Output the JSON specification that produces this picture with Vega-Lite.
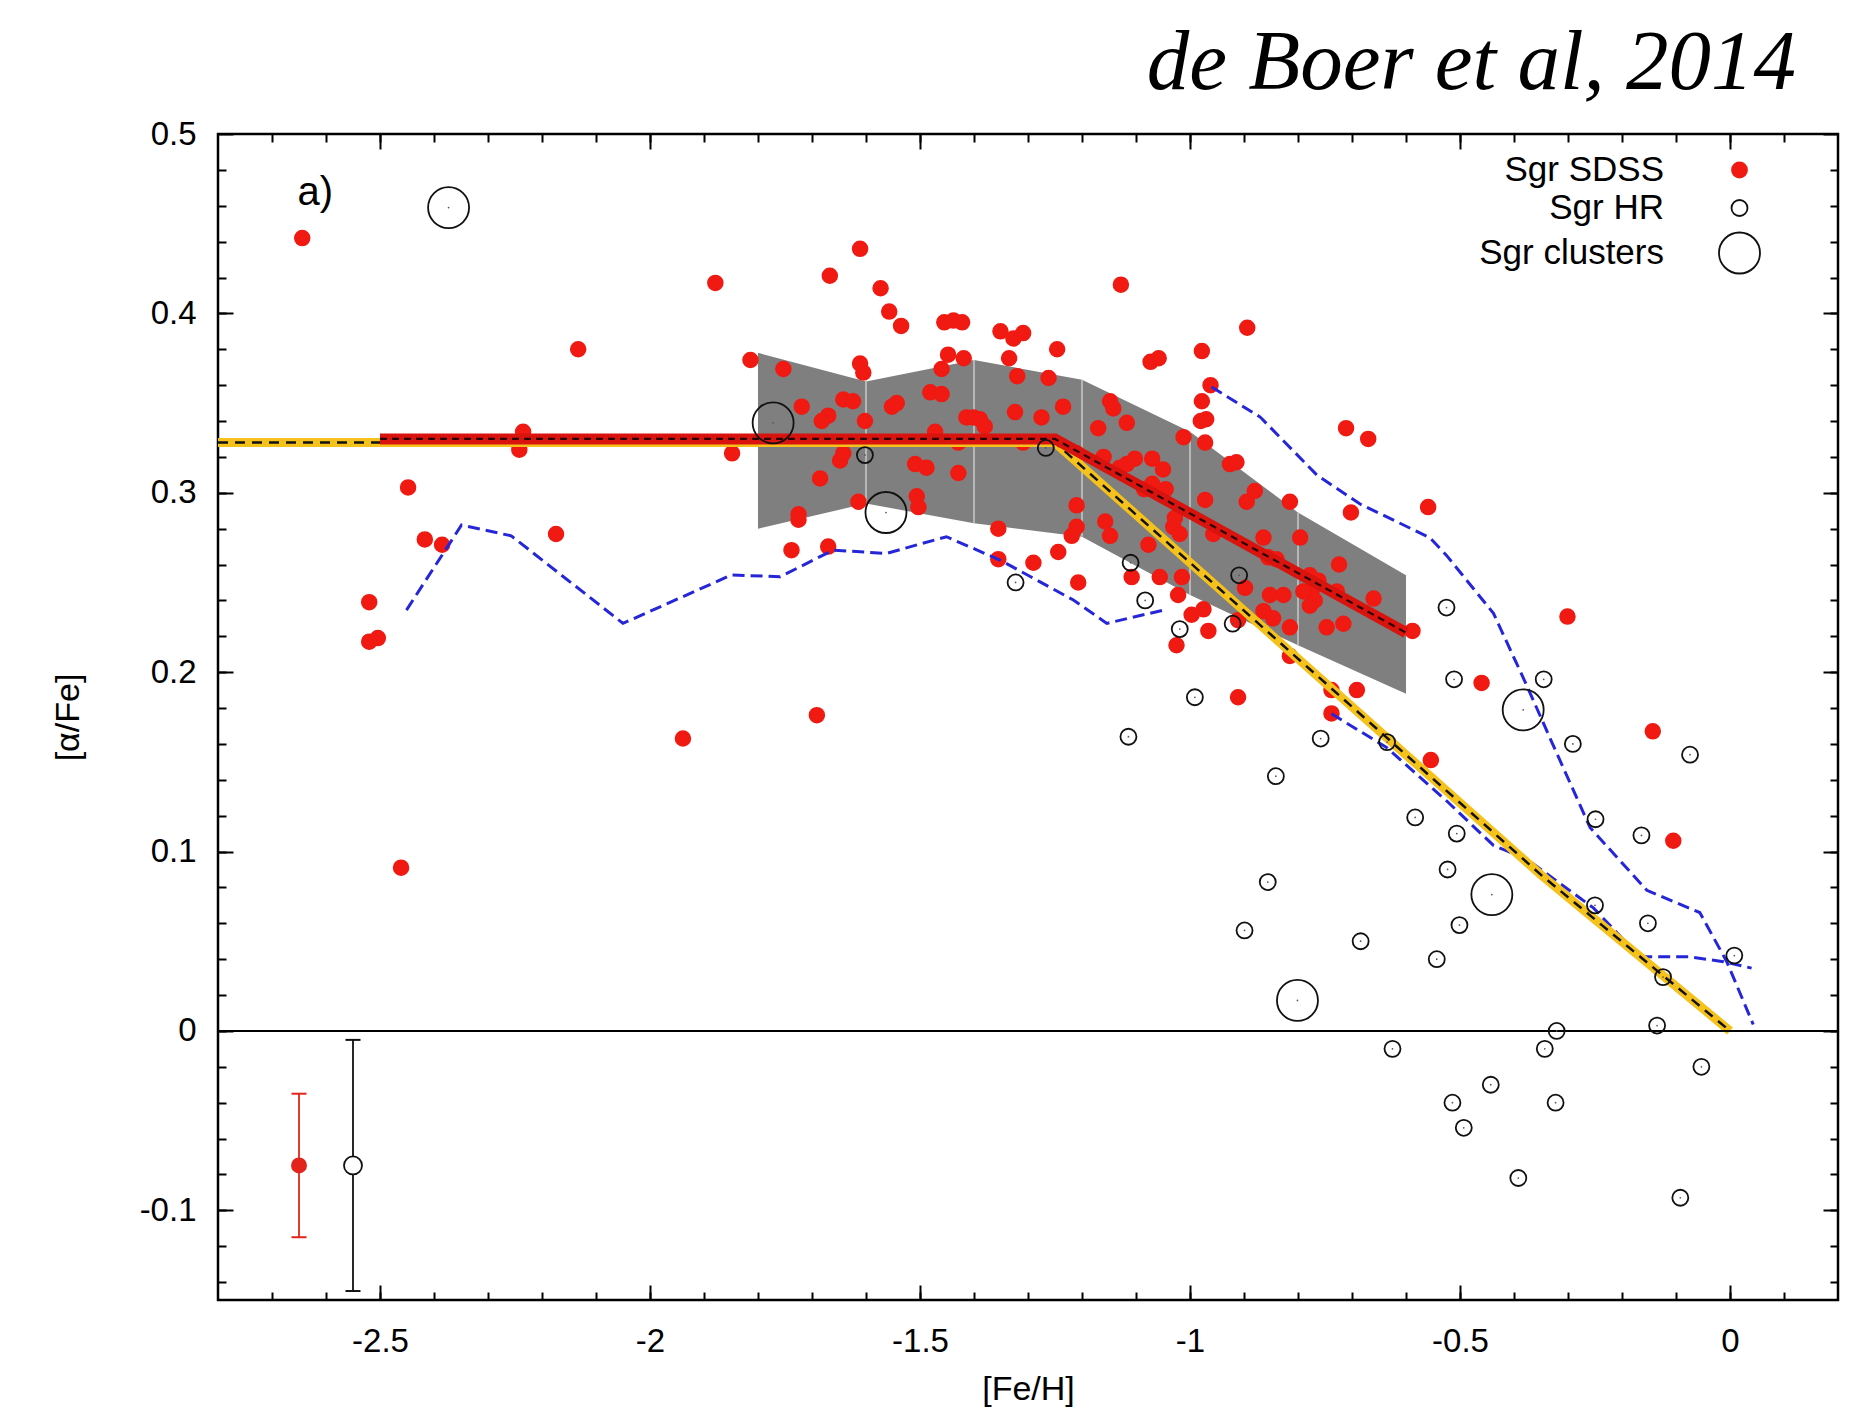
{
  "$schema": "https://vega.github.io/schema/vega-lite/v6.json",
  "width": 1620,
  "height": 1166,
  "autosize": {"type": "none"},
  "padding": {"left": 218, "top": 134, "right": 27, "bottom": 118},
  "background": "white",
  "title": {
    "text": "de Boer et al, 2014",
    "anchor": "end",
    "frame": "group",
    "orient": "top",
    "font": "Liberation Serif",
    "fontStyle": "italic",
    "fontWeight": "normal",
    "fontSize": 85,
    "color": "black",
    "baseline": "alphabetic",
    "offset": -56,
    "dx": -42
  },
  "config": {
    "font": "Liberation Sans",
    "view": {"stroke": "black", "strokeWidth": 2.5},
    "axis": {
      "grid": false,
      "domain": false,
      "tickColor": "black",
      "tickWidth": 2,
      "labelFont": "Liberation Sans",
      "labelFontSize": 33,
      "labelColor": "black",
      "titleFont": "Liberation Sans",
      "titleFontSize": 34,
      "titleFontWeight": "normal",
      "titleColor": "black",
      "labelFlush": false,
      "labelOverlap": false
    }
  },
  "datasets": {
    "band": [
      {"x": -1.8, "y": 0.378, "y2": 0.280},
      {"x": -1.6, "y": 0.362, "y2": 0.294},
      {"x": -1.4, "y": 0.374, "y2": 0.283},
      {"x": -1.2, "y": 0.363, "y2": 0.2755},
      {"x": -1.0, "y": 0.334, "y2": 0.243},
      {"x": -0.8, "y": 0.289, "y2": 0.215},
      {"x": -0.6, "y": 0.254, "y2": 0.188}
    ],
    "fitred": [
      {"x": -2.5, "y": 0.33},
      {"x": -1.25, "y": 0.33},
      {"x": -0.6, "y": 0.222}
    ],
    "fityel": [
      {"x": -2.8, "y": 0.328},
      {"x": -1.25, "y": 0.328},
      {"x": -0.35, "y": 0.087},
      {"x": 0.0, "y": 0.0}
    ],
    "blue": [
      {"seg": "lower1", "x": -2.451, "y": 0.2346},
      {"seg": "lower1", "x": -2.349, "y": 0.282},
      {"seg": "lower1", "x": -2.257, "y": 0.276},
      {"seg": "lower1", "x": -2.050, "y": 0.2272},
      {"seg": "lower1", "x": -1.849, "y": 0.2542},
      {"seg": "lower1", "x": -1.759, "y": 0.2532},
      {"seg": "lower1", "x": -1.661, "y": 0.268},
      {"seg": "lower1", "x": -1.562, "y": 0.2662},
      {"seg": "lower1", "x": -1.451, "y": 0.2755},
      {"seg": "lower1", "x": -1.352, "y": 0.2625},
      {"seg": "lower1", "x": -1.216, "y": 0.2402},
      {"seg": "lower1", "x": -1.154, "y": 0.2272},
      {"seg": "lower1", "x": -1.049, "y": 0.2346},
      {"seg": "lower2", "x": -0.738, "y": 0.1768},
      {"seg": "lower2", "x": -0.636, "y": 0.158},
      {"seg": "lower2", "x": -0.525, "y": 0.1283},
      {"seg": "lower2", "x": -0.438, "y": 0.1034},
      {"seg": "lower2", "x": -0.377, "y": 0.0959},
      {"seg": "lower2", "x": -0.253, "y": 0.0686},
      {"seg": "lower2", "x": -0.167, "y": 0.0413},
      {"seg": "lower2", "x": -0.074, "y": 0.0413},
      {"seg": "lower2", "x": -0.012, "y": 0.0386},
      {"seg": "lower2", "x": 0.040, "y": 0.035},
      {"seg": "upper", "x": -0.96, "y": 0.359},
      {"seg": "upper", "x": -0.87, "y": 0.3422},
      {"seg": "upper", "x": -0.765, "y": 0.3099},
      {"seg": "upper", "x": -0.685, "y": 0.2937},
      {"seg": "upper", "x": -0.556, "y": 0.275},
      {"seg": "upper", "x": -0.525, "y": 0.2651},
      {"seg": "upper", "x": -0.438, "y": 0.2328},
      {"seg": "upper", "x": -0.377, "y": 0.193},
      {"seg": "upper", "x": -0.333, "y": 0.163},
      {"seg": "upper", "x": -0.259, "y": 0.1133},
      {"seg": "upper", "x": -0.154, "y": 0.0784},
      {"seg": "upper", "x": -0.056, "y": 0.066},
      {"seg": "upper", "x": -0.006, "y": 0.0386},
      {"seg": "upper", "x": 0.043, "y": 0.0036}
    ],
    "sdss": [
      {"set": "Sgr SDSS", "x": -2.644, "y": 0.442},
      {"set": "Sgr SDSS", "x": -2.520, "y": 0.239},
      {"set": "Sgr SDSS", "x": -2.520, "y": 0.217},
      {"set": "Sgr SDSS", "x": -2.504, "y": 0.219},
      {"set": "Sgr SDSS", "x": -2.448, "y": 0.303},
      {"set": "Sgr SDSS", "x": -2.417, "y": 0.274},
      {"set": "Sgr SDSS", "x": -2.385, "y": 0.271},
      {"set": "Sgr SDSS", "x": -2.461, "y": 0.091},
      {"set": "Sgr SDSS", "x": -2.235, "y": 0.334},
      {"set": "Sgr SDSS", "x": -2.242, "y": 0.324},
      {"set": "Sgr SDSS", "x": -2.174, "y": 0.277},
      {"set": "Sgr SDSS", "x": -2.133, "y": 0.380},
      {"set": "Sgr SDSS", "x": -1.939, "y": 0.163},
      {"set": "Sgr SDSS", "x": -1.879, "y": 0.417},
      {"set": "Sgr SDSS", "x": -1.848, "y": 0.322},
      {"set": "Sgr SDSS", "x": -1.814, "y": 0.374},
      {"set": "Sgr SDSS", "x": -1.691, "y": 0.176},
      {"set": "Sgr SDSS", "x": -1.667, "y": 0.421},
      {"set": "Sgr SDSS", "x": -1.611, "y": 0.436},
      {"set": "Sgr SDSS", "x": -1.573, "y": 0.414},
      {"set": "Sgr SDSS", "x": -1.557, "y": 0.401},
      {"set": "Sgr SDSS", "x": -1.535, "y": 0.393},
      {"set": "Sgr SDSS", "x": -1.455, "y": 0.395},
      {"set": "Sgr SDSS", "x": -1.438, "y": 0.396},
      {"set": "Sgr SDSS", "x": -1.422, "y": 0.395},
      {"set": "Sgr SDSS", "x": -1.351, "y": 0.390},
      {"set": "Sgr SDSS", "x": -1.327, "y": 0.386},
      {"set": "Sgr SDSS", "x": -1.309, "y": 0.389},
      {"set": "Sgr SDSS", "x": -1.128, "y": 0.416},
      {"set": "Sgr SDSS", "x": -0.894, "y": 0.392},
      {"set": "Sgr SDSS", "x": -0.978, "y": 0.379},
      {"set": "Sgr SDSS", "x": -0.962, "y": 0.360},
      {"set": "Sgr SDSS", "x": -1.246, "y": 0.380},
      {"set": "Sgr SDSS", "x": -1.335, "y": 0.375},
      {"set": "Sgr SDSS", "x": -1.320, "y": 0.365},
      {"set": "Sgr SDSS", "x": -1.262, "y": 0.364},
      {"set": "Sgr SDSS", "x": -1.073, "y": 0.373},
      {"set": "Sgr SDSS", "x": -1.058, "y": 0.375},
      {"set": "Sgr SDSS", "x": -1.753, "y": 0.369},
      {"set": "Sgr SDSS", "x": -1.611, "y": 0.372},
      {"set": "Sgr SDSS", "x": -1.605, "y": 0.367},
      {"set": "Sgr SDSS", "x": -1.448, "y": 0.377},
      {"set": "Sgr SDSS", "x": -1.460, "y": 0.369},
      {"set": "Sgr SDSS", "x": -1.419, "y": 0.375},
      {"set": "Sgr SDSS", "x": -1.481, "y": 0.356},
      {"set": "Sgr SDSS", "x": -1.460, "y": 0.355},
      {"set": "Sgr SDSS", "x": -1.552, "y": 0.348},
      {"set": "Sgr SDSS", "x": -1.543, "y": 0.350},
      {"set": "Sgr SDSS", "x": -1.642, "y": 0.352},
      {"set": "Sgr SDSS", "x": -1.624, "y": 0.351},
      {"set": "Sgr SDSS", "x": -1.719, "y": 0.348},
      {"set": "Sgr SDSS", "x": -1.670, "y": 0.343},
      {"set": "Sgr SDSS", "x": -1.682, "y": 0.340},
      {"set": "Sgr SDSS", "x": -1.602, "y": 0.340},
      {"set": "Sgr SDSS", "x": -1.414, "y": 0.342},
      {"set": "Sgr SDSS", "x": -1.401, "y": 0.342},
      {"set": "Sgr SDSS", "x": -1.389, "y": 0.341},
      {"set": "Sgr SDSS", "x": -1.380, "y": 0.337},
      {"set": "Sgr SDSS", "x": -1.324, "y": 0.345},
      {"set": "Sgr SDSS", "x": -1.275, "y": 0.342},
      {"set": "Sgr SDSS", "x": -1.235, "y": 0.348},
      {"set": "Sgr SDSS", "x": -1.148, "y": 0.351},
      {"set": "Sgr SDSS", "x": -1.142, "y": 0.347},
      {"set": "Sgr SDSS", "x": -1.170, "y": 0.336},
      {"set": "Sgr SDSS", "x": -1.117, "y": 0.339},
      {"set": "Sgr SDSS", "x": -0.978, "y": 0.351},
      {"set": "Sgr SDSS", "x": -0.980, "y": 0.340},
      {"set": "Sgr SDSS", "x": -0.970, "y": 0.341},
      {"set": "Sgr SDSS", "x": -0.972, "y": 0.328},
      {"set": "Sgr SDSS", "x": -1.012, "y": 0.331},
      {"set": "Sgr SDSS", "x": -1.472, "y": 0.334},
      {"set": "Sgr SDSS", "x": -1.429, "y": 0.328},
      {"set": "Sgr SDSS", "x": -1.309, "y": 0.328},
      {"set": "Sgr SDSS", "x": -1.648, "y": 0.318},
      {"set": "Sgr SDSS", "x": -1.642, "y": 0.322},
      {"set": "Sgr SDSS", "x": -1.685, "y": 0.308},
      {"set": "Sgr SDSS", "x": -1.509, "y": 0.316},
      {"set": "Sgr SDSS", "x": -1.488, "y": 0.314},
      {"set": "Sgr SDSS", "x": -1.429, "y": 0.311},
      {"set": "Sgr SDSS", "x": -1.210, "y": 0.322},
      {"set": "Sgr SDSS", "x": -1.160, "y": 0.320},
      {"set": "Sgr SDSS", "x": -1.130, "y": 0.314},
      {"set": "Sgr SDSS", "x": -1.117, "y": 0.316},
      {"set": "Sgr SDSS", "x": -1.102, "y": 0.319},
      {"set": "Sgr SDSS", "x": -1.070, "y": 0.319},
      {"set": "Sgr SDSS", "x": -1.050, "y": 0.313},
      {"set": "Sgr SDSS", "x": -1.070, "y": 0.305},
      {"set": "Sgr SDSS", "x": -1.045, "y": 0.302},
      {"set": "Sgr SDSS", "x": -1.085, "y": 0.302},
      {"set": "Sgr SDSS", "x": -0.926, "y": 0.316},
      {"set": "Sgr SDSS", "x": -0.914, "y": 0.317},
      {"set": "Sgr SDSS", "x": -0.972, "y": 0.296},
      {"set": "Sgr SDSS", "x": -0.895, "y": 0.295},
      {"set": "Sgr SDSS", "x": -0.880, "y": 0.301},
      {"set": "Sgr SDSS", "x": -1.210, "y": 0.293},
      {"set": "Sgr SDSS", "x": -1.210, "y": 0.281},
      {"set": "Sgr SDSS", "x": -1.219, "y": 0.276},
      {"set": "Sgr SDSS", "x": -1.157, "y": 0.284},
      {"set": "Sgr SDSS", "x": -1.148, "y": 0.276},
      {"set": "Sgr SDSS", "x": -1.077, "y": 0.271},
      {"set": "Sgr SDSS", "x": -1.031, "y": 0.281},
      {"set": "Sgr SDSS", "x": -1.019, "y": 0.277},
      {"set": "Sgr SDSS", "x": -1.028, "y": 0.286},
      {"set": "Sgr SDSS", "x": -0.957, "y": 0.277},
      {"set": "Sgr SDSS", "x": -0.975, "y": 0.235},
      {"set": "Sgr SDSS", "x": -0.997, "y": 0.232},
      {"set": "Sgr SDSS", "x": -1.056, "y": 0.253},
      {"set": "Sgr SDSS", "x": -1.015, "y": 0.253},
      {"set": "Sgr SDSS", "x": -1.022, "y": 0.243},
      {"set": "Sgr SDSS", "x": -1.108, "y": 0.253},
      {"set": "Sgr SDSS", "x": -1.025, "y": 0.215},
      {"set": "Sgr SDSS", "x": -0.966, "y": 0.223},
      {"set": "Sgr SDSS", "x": -0.911, "y": 0.229},
      {"set": "Sgr SDSS", "x": -0.911, "y": 0.186},
      {"set": "Sgr SDSS", "x": -1.207, "y": 0.250},
      {"set": "Sgr SDSS", "x": -1.244, "y": 0.267},
      {"set": "Sgr SDSS", "x": -1.290, "y": 0.261},
      {"set": "Sgr SDSS", "x": -1.355, "y": 0.263},
      {"set": "Sgr SDSS", "x": -1.355, "y": 0.280},
      {"set": "Sgr SDSS", "x": -1.506, "y": 0.298},
      {"set": "Sgr SDSS", "x": -1.503, "y": 0.292},
      {"set": "Sgr SDSS", "x": -1.614, "y": 0.295},
      {"set": "Sgr SDSS", "x": -1.725, "y": 0.288},
      {"set": "Sgr SDSS", "x": -1.725, "y": 0.285},
      {"set": "Sgr SDSS", "x": -1.738, "y": 0.268},
      {"set": "Sgr SDSS", "x": -1.670, "y": 0.270},
      {"set": "Sgr SDSS", "x": -0.898, "y": 0.247},
      {"set": "Sgr SDSS", "x": -0.711, "y": 0.336},
      {"set": "Sgr SDSS", "x": -0.670, "y": 0.330},
      {"set": "Sgr SDSS", "x": -0.559, "y": 0.292},
      {"set": "Sgr SDSS", "x": -0.702, "y": 0.289},
      {"set": "Sgr SDSS", "x": -0.815, "y": 0.295},
      {"set": "Sgr SDSS", "x": -0.864, "y": 0.275},
      {"set": "Sgr SDSS", "x": -0.796, "y": 0.275},
      {"set": "Sgr SDSS", "x": -0.724, "y": 0.260},
      {"set": "Sgr SDSS", "x": -0.855, "y": 0.264},
      {"set": "Sgr SDSS", "x": -0.840, "y": 0.263},
      {"set": "Sgr SDSS", "x": -0.778, "y": 0.254},
      {"set": "Sgr SDSS", "x": -0.762, "y": 0.251},
      {"set": "Sgr SDSS", "x": -0.772, "y": 0.247},
      {"set": "Sgr SDSS", "x": -0.790, "y": 0.245},
      {"set": "Sgr SDSS", "x": -0.728, "y": 0.245},
      {"set": "Sgr SDSS", "x": -0.660, "y": 0.241},
      {"set": "Sgr SDSS", "x": -0.852, "y": 0.243},
      {"set": "Sgr SDSS", "x": -0.827, "y": 0.243},
      {"set": "Sgr SDSS", "x": -0.778, "y": 0.237},
      {"set": "Sgr SDSS", "x": -0.769, "y": 0.240},
      {"set": "Sgr SDSS", "x": -0.864, "y": 0.234},
      {"set": "Sgr SDSS", "x": -0.846, "y": 0.230},
      {"set": "Sgr SDSS", "x": -0.815, "y": 0.225},
      {"set": "Sgr SDSS", "x": -0.747, "y": 0.225},
      {"set": "Sgr SDSS", "x": -0.716, "y": 0.227},
      {"set": "Sgr SDSS", "x": -0.588, "y": 0.223},
      {"set": "Sgr SDSS", "x": -0.815, "y": 0.209},
      {"set": "Sgr SDSS", "x": -0.691, "y": 0.190},
      {"set": "Sgr SDSS", "x": -0.738, "y": 0.190},
      {"set": "Sgr SDSS", "x": -0.738, "y": 0.177},
      {"set": "Sgr SDSS", "x": -0.460, "y": 0.194},
      {"set": "Sgr SDSS", "x": -0.301, "y": 0.231},
      {"set": "Sgr SDSS", "x": -0.143, "y": 0.167},
      {"set": "Sgr SDSS", "x": -0.105, "y": 0.106},
      {"set": "Sgr SDSS", "x": -0.554, "y": 0.151}
    ],
    "hr": [
      {"set": "Sgr HR", "x": -1.602, "y": 0.321},
      {"set": "Sgr HR", "x": -1.267, "y": 0.325},
      {"set": "Sgr HR", "x": -1.323, "y": 0.250},
      {"set": "Sgr HR", "x": -1.110, "y": 0.261},
      {"set": "Sgr HR", "x": -1.083, "y": 0.240},
      {"set": "Sgr HR", "x": -1.019, "y": 0.224},
      {"set": "Sgr HR", "x": -0.909, "y": 0.254},
      {"set": "Sgr HR", "x": -0.921, "y": 0.227},
      {"set": "Sgr HR", "x": -0.991, "y": 0.186},
      {"set": "Sgr HR", "x": -1.114, "y": 0.164},
      {"set": "Sgr HR", "x": -0.758, "y": 0.163},
      {"set": "Sgr HR", "x": -0.841, "y": 0.142},
      {"set": "Sgr HR", "x": -0.856, "y": 0.083},
      {"set": "Sgr HR", "x": -0.899, "y": 0.056},
      {"set": "Sgr HR", "x": -0.684, "y": 0.050},
      {"set": "Sgr HR", "x": -0.635, "y": 0.161},
      {"set": "Sgr HR", "x": -0.625, "y": -0.010},
      {"set": "Sgr HR", "x": -0.583, "y": 0.119},
      {"set": "Sgr HR", "x": -0.525, "y": 0.236},
      {"set": "Sgr HR", "x": -0.511, "y": 0.196},
      {"set": "Sgr HR", "x": -0.506, "y": 0.110},
      {"set": "Sgr HR", "x": -0.523, "y": 0.090},
      {"set": "Sgr HR", "x": -0.501, "y": 0.059},
      {"set": "Sgr HR", "x": -0.543, "y": 0.040},
      {"set": "Sgr HR", "x": -0.345, "y": 0.196},
      {"set": "Sgr HR", "x": -0.291, "y": 0.160},
      {"set": "Sgr HR", "x": -0.249, "y": 0.118},
      {"set": "Sgr HR", "x": -0.164, "y": 0.109},
      {"set": "Sgr HR", "x": -0.074, "y": 0.154},
      {"set": "Sgr HR", "x": -0.250, "y": 0.070},
      {"set": "Sgr HR", "x": -0.152, "y": 0.060},
      {"set": "Sgr HR", "x": -0.124, "y": 0.030},
      {"set": "Sgr HR", "x": 0.008, "y": 0.042},
      {"set": "Sgr HR", "x": -0.321, "y": 0.000},
      {"set": "Sgr HR", "x": -0.343, "y": -0.010},
      {"set": "Sgr HR", "x": -0.135, "y": 0.003},
      {"set": "Sgr HR", "x": -0.514, "y": -0.040},
      {"set": "Sgr HR", "x": -0.493, "y": -0.054},
      {"set": "Sgr HR", "x": -0.443, "y": -0.030},
      {"set": "Sgr HR", "x": -0.323, "y": -0.040},
      {"set": "Sgr HR", "x": -0.053, "y": -0.020},
      {"set": "Sgr HR", "x": -0.392, "y": -0.082},
      {"set": "Sgr HR", "x": -0.092, "y": -0.093},
      {"set": "Sgr clusters", "x": -2.373, "y": 0.459},
      {"set": "Sgr clusters", "x": -1.772, "y": 0.339},
      {"set": "Sgr clusters", "x": -1.563, "y": 0.289},
      {"set": "Sgr clusters", "x": -0.383, "y": 0.179},
      {"set": "Sgr clusters", "x": -0.441, "y": 0.076},
      {"set": "Sgr clusters", "x": -0.801, "y": 0.017}
    ],
    "err": [
      {"set": "SDSS", "x": -2.65, "y": -0.075, "lo": -0.115, "hi": -0.035},
      {"set": "HR", "x": -2.55, "y": -0.075, "lo": -0.145, "hi": -0.005}
    ]
  },
  "layer": [
    {
      "data": {"name": "band"},
      "mark": {"type": "area", "color": "#7f7f7f", "opacity": 1},
      "encoding": {
        "x": {"field": "x", "type": "quantitative", "scale": {"domain": [-2.8, 0.2], "nice": false, "zero": false},
          "axis": {"orient": "bottom", "values": [-2.5, -2, -1.5, -1, -0.5, 0], "tickSize": -15, "labelPadding": 40, "format": "~g", "labelExpr": "replace(datum.label, '\u2212', '-')", "title": "[Fe/H]", "titlePadding": 14}},
        "y": {"field": "y", "type": "quantitative", "scale": {"domain": [-0.15, 0.5], "nice": false, "zero": false},
          "axis": {"orient": "left", "values": [-0.1, 0, 0.1, 0.2, 0.3, 0.4, 0.5], "tickSize": -15, "labelPadding": 37, "format": "~g", "labelExpr": "replace(datum.label, '\u2212', '-')", "title": "[\u03b1/Fe]", "titlePadding": 54}},
        "y2": {"field": "y2"}
      }
    },
    {
      "data": {"name": "band"},
      "transform": [{"filter": "datum.x > -1.75 && datum.x < -0.65"}],
      "mark": {"type": "rule", "color": "#c8c8c8", "strokeWidth": 1.5},
      "encoding": {
        "x": {"field": "x", "type": "quantitative", "scale": {"domain": [-2.8, 0.2], "nice": false, "zero": false}, "axis": null},
        "y": {"field": "y", "type": "quantitative", "scale": {"domain": [-0.15, 0.5], "nice": false, "zero": false}, "axis": null},
        "y2": {"field": "y2"}
      }
    },
    {
      "data": {"name": "sdss"},
      "mark": {"type": "point", "shape": "circle", "opacity": 1, "strokeWidth": 1.5},
      "encoding": {
        "x": {"field": "x", "type": "quantitative", "scale": {"domain": [-2.8, 0.2], "nice": false, "zero": false}, "axis": null},
        "y": {"field": "y", "type": "quantitative", "scale": {"domain": [-0.15, 0.5], "nice": false, "zero": false}, "axis": null},
        "fill": {"field": "set", "type": "nominal", "scale": {"domain": ["Sgr SDSS", "Sgr HR", "Sgr clusters"], "range": ["#f01a12", "transparent", "transparent"]},
          "legend": {"orient": "none", "legendX": 1500, "legendY": 18.5, "title": null, "labelAlign": "right", "labelOffset": -97, "labelFontSize": 35, "labelFont": "Liberation Sans", "labelColor": "black", "labelLimit": 0, "rowPadding": 2, "padding": 0, "symbolType": "circle", "symbolStrokeWidth": 1.8}},
        "stroke": {"field": "set", "type": "nominal", "scale": {"domain": ["Sgr SDSS", "Sgr HR", "Sgr clusters"], "range": ["#f01a12", "#111111", "#111111"]},
          "legend": {"orient": "none", "legendX": 1500, "legendY": 18.5, "title": null, "labelAlign": "right", "labelOffset": -97, "labelFontSize": 35, "labelFont": "Liberation Sans", "labelColor": "black", "labelLimit": 0, "rowPadding": 2, "padding": 0, "symbolType": "circle", "symbolStrokeWidth": 1.8}},
        "size": {"field": "set", "type": "nominal", "scale": {"type": "ordinal", "domain": ["Sgr SDSS", "Sgr HR", "Sgr clusters"], "range": [225, 256, 1681]},
          "legend": {"orient": "none", "legendX": 1500, "legendY": 18.5, "title": null, "labelAlign": "right", "labelOffset": -97, "labelFontSize": 35, "labelFont": "Liberation Sans", "labelColor": "black", "labelLimit": 0, "rowPadding": 2, "padding": 0, "symbolType": "circle", "symbolStrokeWidth": 1.8}}
      }
    },
    {
      "data": {"name": "blue"},
      "mark": {"type": "line", "color": "#2626d9", "strokeWidth": 3, "strokeDash": [12, 6]},
      "encoding": {
        "x": {"field": "x", "type": "quantitative", "scale": {"domain": [-2.8, 0.2], "nice": false, "zero": false},
          "axis": {"orient": "bottom", "values": [-2.7, -2.6, -2.5, -2.4, -2.3, -2.2, -2.1, -2, -1.9, -1.8, -1.7, -1.6, -1.5, -1.4, -1.3, -1.2, -1.1, -1, -0.9, -0.8, -0.7, -0.6, -0.5, -0.4, -0.3, -0.2, -0.1, 0, 0.1], "tickSize": -8, "labels": false, "title": null}},
        "y": {"field": "y", "type": "quantitative", "scale": {"domain": [-0.15, 0.5], "nice": false, "zero": false},
          "axis": {"orient": "left", "values": [-0.14, -0.12, -0.1, -0.08, -0.06, -0.04, -0.02, 0, 0.02, 0.04, 0.06, 0.08, 0.1, 0.12, 0.14, 0.16, 0.18, 0.2, 0.22, 0.24, 0.26, 0.28, 0.3, 0.32, 0.34, 0.36, 0.38, 0.4, 0.42, 0.44, 0.46, 0.48], "tickSize": -8, "labels": false, "title": null}},
        "detail": {"field": "seg", "type": "nominal"}
      }
    },
    {
      "data": {"name": "fityel"},
      "mark": {"type": "line", "color": "#f5c21b", "strokeWidth": 9},
      "encoding": {
        "x": {"field": "x", "type": "quantitative", "scale": {"domain": [-2.8, 0.2], "nice": false, "zero": false},
          "axis": {"orient": "top", "values": [-2.5, -2, -1.5, -1, -0.5, 0], "tickSize": -15, "labels": false, "title": null}},
        "y": {"field": "y", "type": "quantitative", "scale": {"domain": [-0.15, 0.5], "nice": false, "zero": false},
          "axis": {"orient": "right", "values": [-0.1, 0, 0.1, 0.2, 0.3, 0.4, 0.5], "tickSize": -15, "labels": false, "title": null}}
      }
    },
    {
      "data": {"name": "fityel"},
      "mark": {"type": "line", "color": "#111111", "strokeWidth": 2.5, "strokeDash": [10, 7]},
      "encoding": {
        "x": {"field": "x", "type": "quantitative", "scale": {"domain": [-2.8, 0.2], "nice": false, "zero": false}, "axis": null},
        "y": {"field": "y", "type": "quantitative", "scale": {"domain": [-0.15, 0.5], "nice": false, "zero": false}, "axis": null}
      }
    },
    {
      "data": {"name": "fitred"},
      "mark": {"type": "line", "color": "#d9140e", "strokeWidth": 11},
      "encoding": {
        "x": {"field": "x", "type": "quantitative", "scale": {"domain": [-2.8, 0.2], "nice": false, "zero": false},
          "axis": {"orient": "top", "values": [-2.7, -2.6, -2.5, -2.4, -2.3, -2.2, -2.1, -2, -1.9, -1.8, -1.7, -1.6, -1.5, -1.4, -1.3, -1.2, -1.1, -1, -0.9, -0.8, -0.7, -0.6, -0.5, -0.4, -0.3, -0.2, -0.1, 0, 0.1], "tickSize": -8, "labels": false, "title": null}},
        "y": {"field": "y", "type": "quantitative", "scale": {"domain": [-0.15, 0.5], "nice": false, "zero": false},
          "axis": {"orient": "right", "values": [-0.14, -0.12, -0.1, -0.08, -0.06, -0.04, -0.02, 0, 0.02, 0.04, 0.06, 0.08, 0.1, 0.12, 0.14, 0.16, 0.18, 0.2, 0.22, 0.24, 0.26, 0.28, 0.3, 0.32, 0.34, 0.36, 0.38, 0.4, 0.42, 0.44, 0.46, 0.48], "tickSize": -8, "labels": false, "title": null}}
      }
    },
    {
      "data": {"name": "fitred"},
      "mark": {"type": "line", "color": "#2a0000", "strokeWidth": 2.2, "strokeDash": [7, 5]},
      "encoding": {
        "x": {"field": "x", "type": "quantitative", "scale": {"domain": [-2.8, 0.2], "nice": false, "zero": false}, "axis": null},
        "y": {"field": "y", "type": "quantitative", "scale": {"domain": [-0.15, 0.5], "nice": false, "zero": false}, "axis": null}
      }
    },
    {
      "data": {"values": [{}]},
      "mark": {"type": "rule", "color": "black", "strokeWidth": 2},
      "encoding": {
        "y": {"datum": 0, "type": "quantitative", "scale": {"domain": [-0.15, 0.5], "nice": false, "zero": false}, "axis": null}
      }
    },
    {
      "data": {"name": "hr"},
      "mark": {"type": "point", "shape": "circle", "opacity": 1, "strokeWidth": 1.8},
      "encoding": {
        "x": {"field": "x", "type": "quantitative", "scale": {"domain": [-2.8, 0.2], "nice": false, "zero": false}, "axis": null},
        "y": {"field": "y", "type": "quantitative", "scale": {"domain": [-0.15, 0.5], "nice": false, "zero": false}, "axis": null},
        "fill": {"field": "set", "type": "nominal", "scale": {"domain": ["Sgr SDSS", "Sgr HR", "Sgr clusters"], "range": ["#f01a12", "transparent", "transparent"]},
          "legend": {"orient": "none", "legendX": 1500, "legendY": 18.5, "title": null, "labelAlign": "right", "labelOffset": -97, "labelFontSize": 35, "labelFont": "Liberation Sans", "labelColor": "black", "labelLimit": 0, "rowPadding": 2, "padding": 0, "symbolType": "circle", "symbolStrokeWidth": 1.8}},
        "stroke": {"field": "set", "type": "nominal", "scale": {"domain": ["Sgr SDSS", "Sgr HR", "Sgr clusters"], "range": ["#f01a12", "#111111", "#111111"]},
          "legend": {"orient": "none", "legendX": 1500, "legendY": 18.5, "title": null, "labelAlign": "right", "labelOffset": -97, "labelFontSize": 35, "labelFont": "Liberation Sans", "labelColor": "black", "labelLimit": 0, "rowPadding": 2, "padding": 0, "symbolType": "circle", "symbolStrokeWidth": 1.8}},
        "size": {"field": "set", "type": "nominal", "scale": {"type": "ordinal", "domain": ["Sgr SDSS", "Sgr HR", "Sgr clusters"], "range": [225, 256, 1681]},
          "legend": {"orient": "none", "legendX": 1500, "legendY": 18.5, "title": null, "labelAlign": "right", "labelOffset": -97, "labelFontSize": 35, "labelFont": "Liberation Sans", "labelColor": "black", "labelLimit": 0, "rowPadding": 2, "padding": 0, "symbolType": "circle", "symbolStrokeWidth": 1.8}}
      }
    },
    {
      "data": {"name": "hr"},
      "mark": {"type": "point", "shape": "circle", "filled": true, "opacity": 1, "size": 3, "color": "#555555"},
      "encoding": {
        "x": {"field": "x", "type": "quantitative", "scale": {"domain": [-2.8, 0.2], "nice": false, "zero": false}, "axis": null},
        "y": {"field": "y", "type": "quantitative", "scale": {"domain": [-0.15, 0.5], "nice": false, "zero": false}, "axis": null}
      }
    },
    {
      "data": {"name": "err"},
      "mark": {"type": "rule", "strokeWidth": 1.8},
      "encoding": {
        "x": {"field": "x", "type": "quantitative", "scale": {"domain": [-2.8, 0.2], "nice": false, "zero": false}, "axis": null},
        "y": {"field": "lo", "type": "quantitative", "scale": {"domain": [-0.15, 0.5], "nice": false, "zero": false}, "axis": null},
        "y2": {"field": "hi"},
        "color": {"field": "set", "type": "nominal", "scale": {"domain": ["SDSS", "HR"], "range": ["#e3241c", "#111111"]}, "legend": null}
      }
    },
    {
      "data": {"name": "err"},
      "mark": {"type": "tick", "orient": "horizontal", "size": 15, "thickness": 2, "opacity": 1},
      "encoding": {
        "x": {"field": "x", "type": "quantitative", "scale": {"domain": [-2.8, 0.2], "nice": false, "zero": false}, "axis": null},
        "y": {"field": "lo", "type": "quantitative", "scale": {"domain": [-0.15, 0.5], "nice": false, "zero": false}, "axis": null},
        "color": {"field": "set", "type": "nominal", "scale": {"domain": ["SDSS", "HR"], "range": ["#e3241c", "#111111"]}, "legend": null}
      }
    },
    {
      "data": {"name": "err"},
      "mark": {"type": "tick", "orient": "horizontal", "size": 15, "thickness": 2, "opacity": 1},
      "encoding": {
        "x": {"field": "x", "type": "quantitative", "scale": {"domain": [-2.8, 0.2], "nice": false, "zero": false}, "axis": null},
        "y": {"field": "hi", "type": "quantitative", "scale": {"domain": [-0.15, 0.5], "nice": false, "zero": false}, "axis": null},
        "color": {"field": "set", "type": "nominal", "scale": {"domain": ["SDSS", "HR"], "range": ["#e3241c", "#111111"]}, "legend": null}
      }
    },
    {
      "data": {"name": "err"},
      "transform": [{"filter": "datum.set === 'SDSS'"}],
      "mark": {"type": "point", "shape": "circle", "filled": true, "opacity": 1, "size": 256, "color": "#e3241c"},
      "encoding": {
        "x": {"field": "x", "type": "quantitative", "scale": {"domain": [-2.8, 0.2], "nice": false, "zero": false}, "axis": null},
        "y": {"field": "y", "type": "quantitative", "scale": {"domain": [-0.15, 0.5], "nice": false, "zero": false}, "axis": null}
      }
    },
    {
      "data": {"name": "err"},
      "transform": [{"filter": "datum.set === 'HR'"}],
      "mark": {"type": "point", "shape": "circle", "filled": false, "opacity": 1, "size": 324, "fill": "white", "stroke": "#111111", "strokeWidth": 1.8},
      "encoding": {
        "x": {"field": "x", "type": "quantitative", "scale": {"domain": [-2.8, 0.2], "nice": false, "zero": false}, "axis": null},
        "y": {"field": "y", "type": "quantitative", "scale": {"domain": [-0.15, 0.5], "nice": false, "zero": false}, "axis": null}
      }
    },
    {
      "data": {"values": [{"label": "a)"}]},
      "mark": {"type": "text", "font": "Liberation Sans", "fontSize": 40, "color": "black", "align": "center", "baseline": "middle"},
      "encoding": {
        "x": {"datum": -2.62, "type": "quantitative", "scale": {"domain": [-2.8, 0.2], "nice": false, "zero": false}, "axis": null},
        "y": {"datum": 0.467, "type": "quantitative", "scale": {"domain": [-0.15, 0.5], "nice": false, "zero": false}, "axis": null},
        "text": {"field": "label", "type": "nominal"}
      }
    }
  ],
  "resolve": {"axis": {"x": "independent", "y": "independent"}}
}
